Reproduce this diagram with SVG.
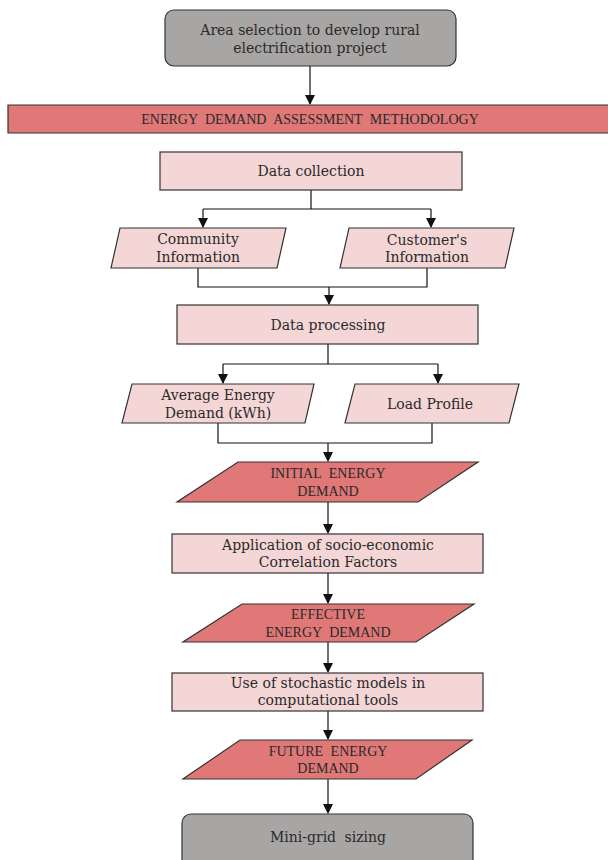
<svg xmlns="http://www.w3.org/2000/svg" width="608" height="860" viewBox="0 0 608 860">
<defs>
<marker id="ah" viewBox="0 0 10 10" refX="9" refY="5" markerWidth="10" markerHeight="10" markerUnits="userSpaceOnUse" orient="auto">
<path d="M0,0 L10,5 L0,10 Z" fill="#111"/>
</marker>
</defs>
<style>
.gray{fill:#a8a5a5;stroke:#333;stroke-width:1.2}
.red{fill:#df7876;stroke:#333;stroke-width:1.2}
.pink{fill:#f4d6d6;stroke:#333;stroke-width:1.2}
.t{font-family:"DejaVu Serif","Liberation Serif",serif;font-size:14px;fill:#2a2a2a;text-anchor:middle;dominant-baseline:central}
.c{font-family:"Liberation Serif","DejaVu Serif",serif;font-size:14px;word-spacing:4px}
.ln{fill:none;stroke:#111;stroke-width:1.2}
.ar{fill:none;stroke:#111;stroke-width:1.2;marker-end:url(#ah)}
</style>
<rect width="608" height="860" fill="#fff"/>
<g id="connectors">
<line class="ar" x1="310" y1="66" x2="310" y2="104"/>
<polyline class="ln" points="311,190 311,209"/>
<polyline class="ar" points="203,209 203,227"/>
<polyline class="ln" points="203,209 431,209"/>
<polyline class="ar" points="431,209 431,227"/>
<polyline class="ln" points="198,268 198,287 427,287 427,268"/>
<line class="ar" x1="329" y1="287" x2="329" y2="304"/>
<polyline class="ln" points="328,344 328,364"/>
<polyline class="ln" points="223,364 438,364"/>
<polyline class="ar" points="223,364 223,383"/>
<polyline class="ar" points="438,364 438,383"/>
<polyline class="ln" points="218,423 218,443 432,443 432,423"/>
<line class="ar" x1="328" y1="443" x2="328" y2="461"/>
<line class="ar" x1="328" y1="502" x2="328" y2="533"/>
<line class="ar" x1="328" y1="573" x2="328" y2="603"/>
<line class="ar" x1="328" y1="642" x2="328" y2="672"/>
<line class="ar" x1="328" y1="711" x2="328" y2="739"/>
<line class="ar" x1="328" y1="779" x2="328" y2="813"/>
</g>
<g id="area-selection">
<rect class="gray" x="165" y="10" width="291" height="56" rx="9"/>
<text class="t" x="310" y="30">Area selection to develop rural</text>
<text class="t" x="310" y="48">electrification project</text>
</g>
<g id="methodology">
<path class="red" d="M612,105 L8,105 L8,133 L612,133"/>
<text class="t c" x="310" y="119">ENERGY DEMAND ASSESSMENT METHODOLOGY</text>
</g>
<g id="data-collection">
<rect class="pink" x="160" y="152" width="302" height="38"/>
<text class="t" x="311" y="171">Data collection</text>
</g>
<g id="community-info">
<polygon class="pink" points="120,228 286,228 277,268 111,268"/>
<text class="t" x="198" y="239">Community</text>
<text class="t" x="198" y="257">Information</text>
</g>
<g id="customer-info">
<polygon class="pink" points="349,228 514,228 505,268 340,268"/>
<text class="t" x="427" y="240">Customer's</text>
<text class="t" x="427" y="257">Information</text>
</g>
<g id="data-processing">
<rect class="pink" x="177" y="305" width="301" height="39"/>
<text class="t" x="328" y="325">Data processing</text>
</g>
<g id="average-demand">
<polygon class="pink" points="132,384 314,384 305,423 122,423"/>
<text class="t" x="218" y="395">Average Energy</text>
<text class="t" x="218" y="413">Demand (kWh)</text>
</g>
<g id="load-profile">
<polygon class="pink" points="355,384 519,384 509,423 345,423"/>
<text class="t" x="430" y="404">Load Profile</text>
</g>
<g id="initial-demand">
<polygon class="red" points="238,462 478,462 418,502 177,502"/>
<text class="t c" x="328" y="473">INITIAL ENERGY</text>
<text class="t c" x="328" y="491">DEMAND</text>
</g>
<g id="correlation-factors">
<rect class="pink" x="172" y="534" width="311" height="39"/>
<text class="t" x="328" y="545">Application of socio-economic</text>
<text class="t" x="328" y="562">Correlation Factors</text>
</g>
<g id="effective-demand">
<polygon class="red" points="242,604 474,604 416,642 183,642"/>
<text class="t c" x="328" y="614">EFFECTIVE</text>
<text class="t c" x="328" y="632">ENERGY DEMAND</text>
</g>
<g id="stochastic-models">
<rect class="pink" x="172" y="673" width="311" height="38"/>
<text class="t" x="328" y="683">Use of stochastic models in</text>
<text class="t" x="328" y="700">computational tools</text>
</g>
<g id="future-demand">
<polygon class="red" points="240,740 472,740 416,779 183,779"/>
<text class="t c" x="328" y="751">FUTURE ENERGY</text>
<text class="t c" x="328" y="768">DEMAND</text>
</g>
<g id="mini-grid">
<rect class="gray" x="182" y="814" width="291" height="56" rx="9"/>
<text class="t" x="328" y="837" style="word-spacing:4px">Mini-grid sizing</text>
</g>
</svg>
